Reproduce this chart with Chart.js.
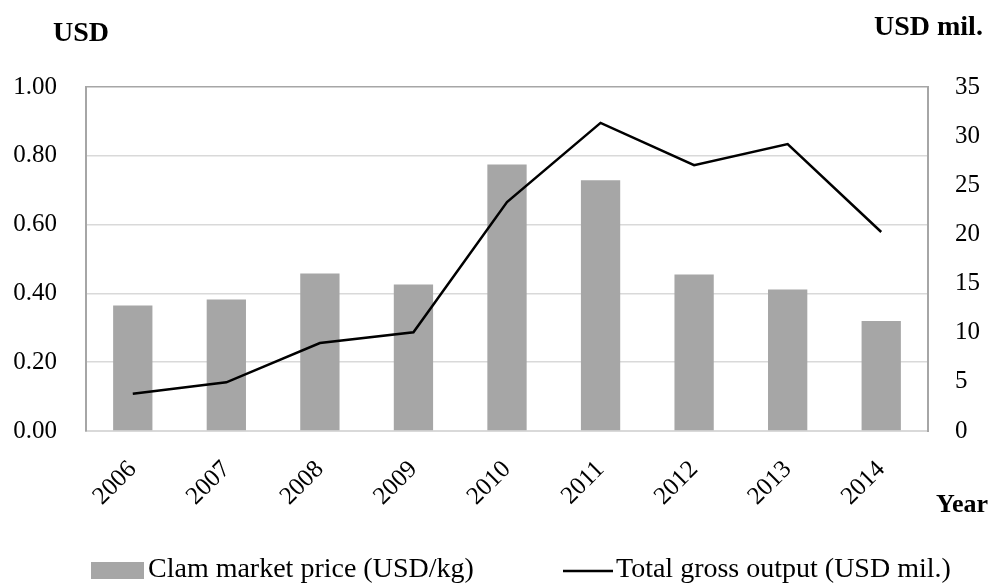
<!DOCTYPE html>
<html>
<head>
<meta charset="utf-8">
<script src="https://cdn.jsdelivr.net/npm/chart.js@4"></script>
<style>
  html, body { margin: 0; padding: 0; background: #fff; }
  #wrap { width: 990px; height: 586px; position: relative; }
</style>
</head>
<body>
<div id="wrap"><canvas id="myChart"></canvas></div>
<script>
// data
var years = ['2006', '2007', '2008', '2009', '2010', '2011', '2012', '2013', '2014'];
var clamPrice = [0.365, 0.382, 0.458, 0.426, 0.775, 0.729, 0.455, 0.411, 0.320];   // USD/kg
var grossOutput = [3.8, 4.95, 8.95, 10.05, 23.3, 31.35, 27.05, 29.2, 20.25];       // USD mil.
var priceTicks = [0, 0.2, 0.4, 0.6, 0.8, 1.0];
var outputTicks = [0, 5, 10, 15, 20, 25, 30, 35];

var FONT = "'Liberation Serif', 'Times New Roman', serif";
Chart.defaults.font.family = FONT;
Chart.defaults.font.size = 25;
Chart.defaults.color = '#000';

// axis titles + legend drawn on the canvas
var extras = {
    id: 'extras',
    afterDraw: function (chart) {
        var c = chart.ctx;
        c.save();
        c.fillStyle = '#000';
        c.textBaseline = 'middle';
        c.textAlign = 'left';
        c.font = 'bold 28px ' + FONT;
        c.fillText('USD', 53, 34);
        c.fillText('USD mil.', 874, 28);
        c.font = 'bold 26px ' + FONT;
        c.fillText('Year', 936, 505);

        // legend
        var ds = chart.data.datasets;
        c.font = '28px ' + FONT;
        c.fillStyle = ds[0].backgroundColor;
        c.fillRect(91, 562, 53, 17);
        c.fillStyle = '#000';
        c.fillText(ds[0].label, 148, 570);
        c.strokeStyle = ds[1].borderColor;
        c.lineWidth = 2.5;
        c.beginPath();
        c.moveTo(563, 571);
        c.lineTo(613, 571);
        c.stroke();
        c.fillText(ds[1].label, 616, 570);
        c.restore();
    }
};

var ctx = document.getElementById('myChart');
var myChart = new Chart(ctx, {
    type: 'bar',
    data: {
        labels: years,
        datasets: [
            {
                label: 'Clam market price (USD/kg)',
                data: clamPrice,
                backgroundColor: '#a6a6a6',
                borderWidth: 0,
                yAxisID: 'y',
                categoryPercentage: 1,
                barPercentage: 0.42,
                order: 1
            },
            {
                type: 'line',
                label: 'Total gross output (USD mil.)',
                data: grossOutput,
                borderColor: '#000',
                backgroundColor: '#000',
                borderWidth: 2.5,
                pointRadius: 0,
                tension: 0,
                yAxisID: 'y1',
                order: 0
            }
        ]
    },
    options: {
        responsive: true,
        maintainAspectRatio: false,
        animation: false,
        layout: { padding: { top: 87, left: 0, right: 0, bottom: 0 } },
        plugins: {
            legend: { display: false },
            tooltip: { enabled: false }
        },
        scales: {
            x: {
                grid: { display: false },
                border: { display: true, color: '#d9d9d9', width: 2 },
                ticks: { minRotation: 45, maxRotation: 45, padding: 16 },
                afterFit: function (s) { s.height = 155; }
            },
            y: {
                position: 'left',
                min: 0,
                max: 1,
                afterBuildTicks: function (s) {
                    s.ticks = priceTicks.map(function (v) { return { value: v }; });
                },
                ticks: {
                    padding: 29,
                    callback: function (v) { return Number(v).toFixed(2); }
                },
                grid: {
                    drawTicks: false,
                    lineWidth: 1.5,
                    color: function (c) { return c.tick && c.tick.value === 1 ? '#a6a6a6' : '#d9d9d9'; }
                },
                border: { display: true, color: '#a6a6a6', width: 2 },
                afterFit: function (s) { s.width = 86; }
            },
            y1: {
                position: 'right',
                min: 0,
                max: 35,
                afterBuildTicks: function (s) {
                    s.ticks = outputTicks.map(function (v) { return { value: v }; });
                },
                ticks: { padding: 27 },
                grid: { display: false, drawTicks: false },
                border: { display: true, color: '#a6a6a6', width: 2 },
                afterFit: function (s) { s.width = 62; }
            }
        }
    },
    plugins: [extras]
});
</script>
</body>
</html>
